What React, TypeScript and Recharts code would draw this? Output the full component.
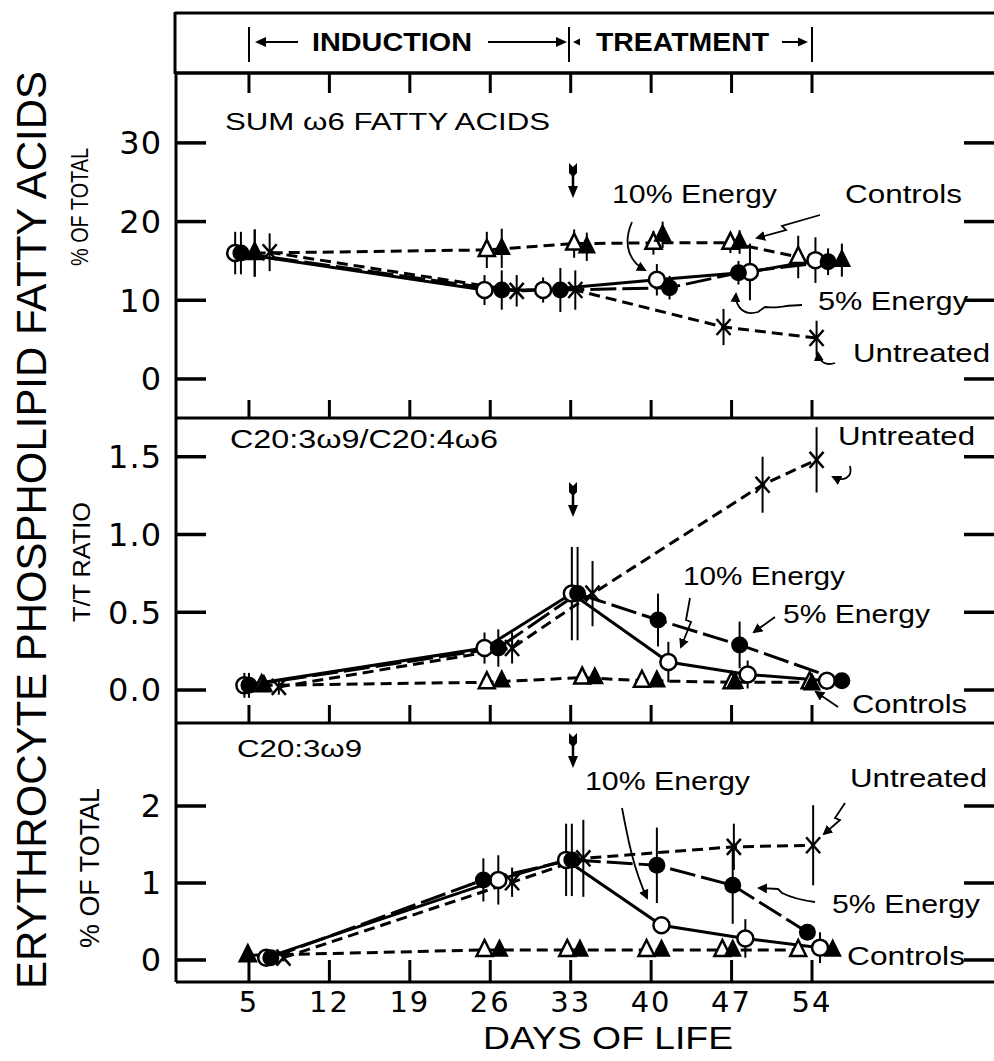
import React from 'react';
import { ComposedChart, Scatter, XAxis, YAxis, ErrorBar } from 'recharts';

// x axis: days of life
const dayTicks = [5, 12, 19, 26, 33, 40, 47, 54];

// ---- panel 1: sum of w6 fatty acids (% of total) ----
const w6CtrlOpenDays = [5.5, 25.7, 33.3, 40.2, 46.9, 52.8];
const w6CtrlOpen = [16.0, 16.4, 17.2, 17.3, 17.3, 15.5];
const w6CtrlOpenSd = [3.0, 2.3, 1.8, 1.5, 1.3, 2.7];
const w6CtrlFillDays = [5.5, 27.0, 34.4, 41.0, 47.7, 56.6];
const w6CtrlFill = [16.0, 16.6, 16.8, 18.3, 17.4, 15.1];
const w6CtrlFillSd = [3.0, 2.5, 1.8, 1.7, 1.5, 2.1];
const w6UntrDays = [6.8, 28.3, 33.4, 46.3, 54.4];
const w6Untr = [16.1, 11.2, 11.3, 6.6, 5.2];
const w6UntrSd = [2.4, 2.0, 2.5, 2.3, 2.2];
const w6E10Days = [3.8, 25.5, 30.6, 40.5, 48.6, 54.3];
const w6E10 = [16.0, 11.3, 11.3, 12.6, 13.6, 15.1];
const w6E10Sd = [2.7, 1.9, 1.6, 2.0, 3.6, 2.9];
const w6E5Days = [4.3, 27.0, 32.1, 41.6, 47.6, 55.4];
const w6E5 = [16.0, 11.3, 11.3, 11.6, 13.5, 14.9];
const w6E5Sd = [2.7, 2.5, 2.8, 1.5, 1.5, 1.7];

// ---- panel 2: C20:3w9 / C20:4w6 (T/T ratio) ----
const ttCtrlOpenDays = [6.1, 25.7, 34.0, 39.2, 47.0, 53.8];
const ttCtrlOpen = [0.03, 0.05, 0.08, 0.06, 0.05, 0.05];
const ttCtrlOpenSd = [0.02, 0.03, 0.04, 0.03, 0.03, 0.03];
const ttCtrlFillDays = [6.3, 27.0, 35.1, 40.5, 47.3, 54.0];
const ttCtrlFill = [0.03, 0.06, 0.08, 0.06, 0.05, 0.04];
const ttCtrlFillSd = [0.02, 0.03, 0.04, 0.03, 0.03, 0.03];
const ttUntrDays = [7.6, 27.9, 34.9, 49.7, 54.4];
const ttUntr = [0.02, 0.27, 0.62, 1.32, 1.48];
const ttUntrSd = [0.05, 0.1, 0.21, 0.18, 0.21];
const ttE10Days = [4.6, 25.5, 33.1, 41.5, 48.4, 55.3];
const ttE10 = [0.03, 0.27, 0.62, 0.18, 0.1, 0.06];
const ttE10Sd = [0.08, 0.1, 0.3, 0.13, 0.09, 0.05];
const ttE5Days = [5.0, 26.7, 33.6, 40.6, 47.7, 56.6];
const ttE5 = [0.03, 0.27, 0.62, 0.45, 0.29, 0.06];
const ttE5Sd = [0.08, 0.12, 0.3, 0.17, 0.15, 0.04];

// ---- panel 3: C20:3w9 (% of total) ----
const c20CtrlOpenDays = [4.9, 25.5, 32.7, 39.6, 46.2, 52.8];
const c20CtrlOpen = [0.06, 0.13, 0.13, 0.13, 0.13, 0.13];
const c20CtrlOpenSd = [0.05, 0.05, 0.05, 0.05, 0.05, 0.05];
const c20CtrlFillDays = [4.9, 26.8, 33.8, 40.9, 47.1, 55.8];
const c20CtrlFill = [0.06, 0.13, 0.13, 0.13, 0.13, 0.13];
const c20CtrlFillSd = [0.05, 0.05, 0.05, 0.05, 0.05, 0.05];
const c20UntrDays = [8.0, 27.9, 34.1, 47.2, 54.1];
const c20Untr = [0.03, 1.01, 1.32, 1.47, 1.49];
const c20UntrSd = [0.05, 0.19, 0.5, 0.3, 0.52];
const c20E10Days = [6.5, 26.7, 32.6, 40.9, 48.2, 54.7];
const c20E10 = [0.03, 1.04, 1.3, 0.45, 0.28, 0.16];
const c20E10Sd = [0.05, 0.32, 0.47, 0.08, 0.25, 0.2];
const c20E5Days = [6.9, 25.4, 33.1, 40.5, 47.1, 53.6];
const c20E5 = [0.03, 1.04, 1.3, 1.23, 0.97, 0.36];
const c20E5Sd = [0.05, 0.28, 0.47, 0.49, 0.5, 0.1];

const FONT = '"Liberation Sans", Arial, Helvetica, sans-serif';
const NUM_FONT = '"DejaVu Sans", "Liberation Sans", sans-serif';
const X_DOMAIN: [number, number] = [-1.35, 69.84];

type Pt = { x: number; y: number; err: number };
const pts = (d: number[], v: number[], e: number[]): Pt[] =>
  d.map((x, i) => ({ x, y: v[i], err: e[i] }));

const openCircle = (p: any) => (
  <circle cx={p.cx} cy={p.cy} r={8} fill="#fff" stroke="#000" strokeWidth={2.5} />
);
const filledCircle = (p: any) => <circle cx={p.cx} cy={p.cy} r={8.5} fill="#000" />;
const triPts = (p: any) =>
  `${p.cx},${p.cy - 10} ${p.cx - 8},${p.cy + 6} ${p.cx + 8},${p.cy + 6}`;
const openTri = (p: any) => (
  <polygon points={triPts(p)} fill="#fff" stroke="#000" strokeWidth={2.5} />
);
const filledTri = (p: any) => (
  <polygon points={triPts(p)} fill="#000" stroke="#000" strokeWidth={1.5} />
);
const cross = (p: any) => (
  <g stroke="#000" strokeWidth={2.5}>
    <line x1={p.cx - 7} y1={p.cy - 8} x2={p.cx + 7} y2={p.cy + 8} />
    <line x1={p.cx + 7} y1={p.cy - 8} x2={p.cx - 7} y2={p.cy + 8} />
  </g>
);
const noShape = () => <g />;
const blankTick = () => <g />;

const dashed = { stroke: '#000', strokeWidth: 3, strokeDasharray: '11 6' };
const solid = { stroke: '#000', strokeWidth: 3 };
const longDash = { stroke: '#000', strokeWidth: 3, strokeDasharray: '26 6' };

type Series = { key: string; data: Pt[]; shape: (p: any) => React.ReactElement; line?: any };

const buildSeries = (
  co: Pt[], cf: Pt[], e10: Pt[], e5: Pt[], un: Pt[]
): Series[] => [
  { key: 'ctrlOpen', data: co, shape: openTri, line: dashed },
  { key: 'ctrlFill', data: cf, shape: filledTri },
  { key: 'e10', data: e10, shape: openCircle, line: solid },
  { key: 'e5', data: e5, shape: filledCircle, line: longDash },
  { key: 'untreated', data: un, shape: cross, line: dashed },
];

const w6Series = buildSeries(
  pts(w6CtrlOpenDays, w6CtrlOpen, w6CtrlOpenSd),
  pts(w6CtrlFillDays, w6CtrlFill, w6CtrlFillSd),
  pts(w6E10Days, w6E10, w6E10Sd),
  pts(w6E5Days, w6E5, w6E5Sd),
  pts(w6UntrDays, w6Untr, w6UntrSd)
);
const ttSeries = buildSeries(
  pts(ttCtrlOpenDays, ttCtrlOpen, ttCtrlOpenSd),
  pts(ttCtrlFillDays, ttCtrlFill, ttCtrlFillSd),
  pts(ttE10Days, ttE10, ttE10Sd),
  pts(ttE5Days, ttE5, ttE5Sd),
  pts(ttUntrDays, ttUntr, ttUntrSd)
);
const c20Series = buildSeries(
  pts(c20CtrlOpenDays, c20CtrlOpen, c20CtrlOpenSd),
  pts(c20CtrlFillDays, c20CtrlFill, c20CtrlFillSd),
  pts(c20E10Days, c20E10, c20E10Sd),
  pts(c20E5Days, c20E5, c20E5Sd),
  pts(c20UntrDays, c20Untr, c20UntrSd)
);

const axisLine = { stroke: '#000', strokeWidth: 3 };

interface PanelProps {
  plotTop: number;
  plotH: number;
  yDomain: [number, number];
  yTicks: number[];
  series: Series[];
  fmt?: (v: number) => string;
  topTicks?: boolean;
  bottomLabels?: boolean;
}

const Panel: React.FC<PanelProps> = ({
  plotTop, plotH, yDomain, yTicks, series, fmt, topTicks, bottomLabels,
}) => {
  const pad = 3;
  const axisH = bottomLabels ? 79 : 30;
  const h = pad + plotH + (bottomLabels ? axisH : pad);
  return (
    <div style={{ position: 'absolute', left: 0, top: plotTop - pad }}>
      <ComposedChart
        width={994}
        height={h}
        margin={{ top: pad, right: 0, bottom: bottomLabels ? 0 : pad, left: 116 }}
      >
        <XAxis
          type="number"
          dataKey="x"
          domain={X_DOMAIN}
          allowDataOverflow
          ticks={dayTicks}
          interval={0}
          orientation="bottom"
          mirror={!bottomLabels}
          height={axisH}
          tickSize={bottomLabels ? -22 : 18}
          tickMargin={bottomLabels ? 31 : 2}
          tick={bottomLabels ? { fill: '#000', fontSize: 29, fontFamily: NUM_FONT, letterSpacing: 2 } : blankTick}
          axisLine={axisLine}
          tickLine={{ stroke: '#000', strokeWidth: 3 }}
        />
        {topTicks && (
          <XAxis
            xAxisId="top"
            type="number"
            dataKey="x"
            domain={X_DOMAIN}
            allowDataOverflow
            ticks={dayTicks}
            interval={0}
            orientation="top"
            mirror
            tickSize={20}
            tick={blankTick}
            axisLine={axisLine}
            tickLine={{ stroke: '#000', strokeWidth: 3 }}
          />
        )}
        <YAxis
          type="number"
          domain={yDomain}
          allowDataOverflow
          ticks={yTicks}
          interval={0}
          width={60}
          tickSize={-30}
          tickMargin={44}
          tickFormatter={fmt}
          tick={{ fill: '#000', fontSize: 32, fontFamily: NUM_FONT, letterSpacing: 1 }}
          axisLine={axisLine}
          tickLine={{ stroke: '#000', strokeWidth: 3.5 }}
        />
        <YAxis
          yAxisId="right"
          type="number"
          domain={yDomain}
          allowDataOverflow
          ticks={yTicks}
          interval={0}
          orientation="right"
          mirror
          tickSize={30}
          tick={blankTick}
          axisLine={false}
          tickLine={{ stroke: '#000', strokeWidth: 3.5 }}
        />
        {series.filter(s => s.line).map(s => (
          <Scatter
            key={`line-${s.key}`}
            data={s.data}
            dataKey="y"
            fill="#000"
            line={s.line}
            lineType="joint"
            shape={noShape}
            isAnimationActive={false}
          />
        ))}
        {series.map(s => (
          <Scatter
            key={`pts-${s.key}`}
            data={s.data}
            dataKey="y"
            fill="#000"
            shape={s.shape}
            isAnimationActive={false}
          >
            <ErrorBar dataKey="err" direction="y" width={0} stroke="#000" strokeWidth={2} />
          </Scatter>
        ))}
      </ComposedChart>
    </div>
  );
};

const DownArrow: React.FC<{ x: number; y: number }> = ({ x, y }) => (
  <g>
    <line x1={x} y1={y + 6} x2={x} y2={y + 26} stroke="#000" strokeWidth={2.5} />
    <path d={`M${x - 4},${y} L${x},${y + 4} L${x + 4},${y} L${x + 4},${y + 10} L${x},${y + 14} L${x - 4},${y + 10} Z`} fill="#000" />
    <path d={`M${x - 5},${y + 23} L${x + 5},${y + 23} L${x},${y + 35} Z`} fill="#000" />
  </g>
);

const Note: React.FC<{ x: number; y: number; len: number; children: string; size?: number }> = ({ x, y, len, children, size = 25 }) => (
  <text x={x} y={y} fontSize={size} fontFamily={FONT} textLength={len} lengthAdjust="spacingAndGlyphs" fill="#000">
    {children}
  </text>
);

const arrowPaths = [
  // panel 1
  'M 632 222 C 622 245, 630 262, 645 270',
  'M 820 215 L 782 226 L 786 230 L 757 238',
  'M 802 305 C 785 305, 775 309, 765 307 L 758 312 C 745 316, 735 308, 736 294',
  'M 835 363 C 826 366, 819 362, 818 353',
  // panel 2
  'M 850 466 C 853 478, 843 482, 833 477',
  'M 690 598 L 686 620 L 691 622 L 681 647',
  'M 775 617 L 754 632',
  'M 838 707 L 816 692',
  // panel 3
  'M 622 808 C 628 840, 634 870, 647 898',
  'M 845 803 L 835 818 L 840 820 L 824 834',
  'M 815 902 C 800 900, 790 897, 782 893 L 778 889 L 759 888',
];

const Overlay: React.FC = () => (
  <svg width={994} height={1061} style={{ position: 'absolute', left: 0, top: 0, pointerEvents: 'none' }}>
    <defs>
      <marker id="ah" viewBox="0 0 10 10" refX="8" refY="5" markerWidth="10" markerHeight="10" markerUnits="userSpaceOnUse" orient="auto">
        <path d="M0,0 L10,5 L0,10 Z" fill="#000" />
      </marker>
    </defs>
    {/* header box */}
    <g stroke="#000" strokeWidth={3}>
      <line x1={175} y1={13} x2={994} y2={13} />
      <line x1={175} y1={12} x2={175} y2={74} />
      <line x1={175} y1={73} x2={994} y2={73} />
    </g>
    <g stroke="#000" strokeWidth={2}>
      <line x1={249} y1={27} x2={249} y2={62} />
      <line x1={569} y1={27} x2={569} y2={62} />
      <line x1={812} y1={27} x2={812} y2={62} />
      <line x1={262} y1={42} x2={298} y2={42} />
      <line x1={488} y1={42} x2={560} y2={42} />
      <line x1={782} y1={42} x2={800} y2={42} />
    </g>
    <path d="M255,42 L266,37 L266,47 Z" fill="#000" />
    <path d="M567,42 L556,37 L556,47 Z" fill="#000" />
    <path d="M573,42 L580,38.5 L580,45.5 Z" fill="#000" />
    <path d="M808,42 L798,37.5 L798,46.5 Z" fill="#000" />
    <text x={312} y={51} fontSize={26} fontWeight="bold" fontFamily={FONT} textLength={160} lengthAdjust="spacingAndGlyphs">INDUCTION</text>
    <text x={596} y={51} fontSize={26} fontWeight="bold" fontFamily={FONT} textLength={173} lengthAdjust="spacingAndGlyphs">TREATMENT</text>

    {/* axis titles */}
    <text transform="translate(46 530) rotate(-90)" textAnchor="middle" fontSize={42} fontFamily={FONT} textLength={918} lengthAdjust="spacingAndGlyphs">
      ERYTHROCYTE PHOSPHOLIPID FATTY ACIDS
    </text>
    <text transform="translate(88 207) rotate(-90)" textAnchor="middle" fontSize={24} fontFamily={FONT} textLength={118} lengthAdjust="spacingAndGlyphs">% OF TOTAL</text>
    <text transform="translate(90 562) rotate(-90)" textAnchor="middle" fontSize={24} fontFamily={FONT} textLength={120} lengthAdjust="spacingAndGlyphs">T/T RATIO</text>
    <text transform="translate(99 868) rotate(-90)" textAnchor="middle" fontSize={27} fontFamily={FONT} textLength={160} lengthAdjust="spacingAndGlyphs">% OF TOTAL</text>
    <text x={483} y={1049} fontSize={32} fontFamily={FONT} textLength={250} lengthAdjust="spacingAndGlyphs">DAYS OF LIFE</text>

    {/* panel titles */}
    <Note x={225} y={130} len={325} size={24}>SUM ω6 FATTY ACIDS</Note>
    <Note x={230} y={448} len={268} size={25}>C20:3ω9/C20:4ω6</Note>
    <Note x={237} y={757} len={125} size={24}>C20:3ω9</Note>

    {/* annotations */}
    <Note x={612} y={203} len={165}>10% Energy</Note>
    <Note x={845} y={203} len={117}>Controls</Note>
    <Note x={818} y={310} len={150}>5% Energy</Note>
    <Note x={853} y={362} len={137}>Untreated</Note>
    <Note x={838} y={445} len={137}>Untreated</Note>
    <Note x={683} y={585} len={162}>10% Energy</Note>
    <Note x={783} y={623} len={147}>5% Energy</Note>
    <Note x={852} y={713} len={115}>Controls</Note>
    <Note x={585} y={790} len={165}>10% Energy</Note>
    <Note x={850} y={787} len={137}>Untreated</Note>
    <Note x={832} y={913} len={148}>5% Energy</Note>
    <Note x={847} y={965} len={118}>Controls</Note>
    {arrowPaths.map((d, i) => (
      <path key={i} d={d} fill="none" stroke="#000" strokeWidth={1.8} markerEnd="url(#ah)" />
    ))}

    <DownArrow x={573} y={163} />
    <DownArrow x={573} y={482} />
    <DownArrow x={573} y={733} />
  </svg>
);

export default function App() {
  return (
    <div style={{ position: 'relative', width: 994, height: 1061, background: '#fff', overflow: 'hidden' }}>
      <style>{'body{margin:0}'}</style>
      <Panel plotTop={73} plotH={345} yDomain={[-4.96, 38.88]} yTicks={[0, 10, 20, 30]} series={w6Series} topTicks />
      <Panel
        plotTop={418}
        plotH={305}
        yDomain={[-0.212, 1.749]}
        yTicks={[0, 0.5, 1.0, 1.5]}
        fmt={(v: number) => v.toFixed(1)}
        series={ttSeries}
      />
      <Panel plotTop={723} plotH={259} yDomain={[-0.286, 3.078]} yTicks={[0, 1, 2]} series={c20Series} bottomLabels />
      <Overlay />
    </div>
  );
}
